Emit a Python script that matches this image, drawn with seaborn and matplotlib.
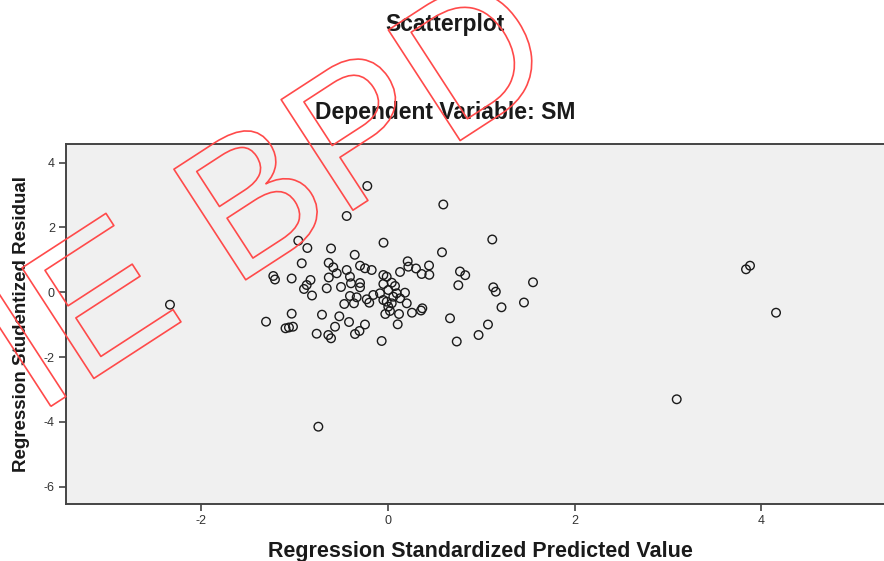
import matplotlib
matplotlib.use("Agg")
import matplotlib.pyplot as plt
import matplotlib.patheffects as pe
import seaborn as sns
import pandas as pd

title_main = "Scatterplot"
title_sub = "Dependent Variable: SM"
x_label = "Regression Standardized Predicted Value"
y_label = "Regression Studentized Residual"
watermark = "IE BPD"

x_ticks = [-2, 0, 2, 4]
y_ticks = [-6, -4, -2, 0, 2, 4]

pred_x = [-2.338, -1.308, -1.230, -1.212, -1.033, -1.033, -1.099, -1.062, -1.019, -0.962,
          -0.865, -0.925, -0.831, -0.872, -0.901, -0.815, -0.765, -0.747, -0.708, -0.640,
          -0.611, -0.611, -0.636, -0.587, -0.550, -0.635, -0.657, -0.504, -0.522, -0.568,
          -0.443, -0.443, -0.408, -0.397, -0.418, -0.408, -0.469, -0.357, -0.354, -0.306,
          -0.300, -0.247, -0.175, -0.300, -0.336, -0.365, -0.247, -0.228, -0.201, -0.222,
          -0.158, -0.068, -0.086, -0.048, -0.014, -0.050, 0.040, 0.003, -0.014, 0.057,
          0.003, -0.029, 0.093, 0.182, 0.129, 0.201, 0.118, 0.104, 0.129, 0.211,
          0.218, 0.300, 0.361, 0.443, 0.440, 0.257, 0.368, 0.354, 0.579, 0.593,
          0.665, 0.737, 0.754, 0.772, 0.828, 0.971, 1.072, 1.118, 1.129, 1.156,
          1.217, 1.458, 1.555, 3.096, 3.839, 3.882, 4.161, -0.050, 0.021, -0.050,
          -0.300, 0.075, 0.040]
resid_y = [-0.383, -0.907, 0.503, 0.395, 0.426, -0.660, -1.111, -1.086, -1.062, 1.593,
           1.367, 0.895, 0.380, 0.225, 0.102, -0.099, -1.278, -4.148, -0.691, -1.318,
           -1.420, 1.352, 0.910, 0.772, 0.586, 0.457, 0.123, 0.164, -0.741, -1.062,
           2.355, 0.688, 0.481, 0.278, -0.917, -0.114, -0.361, 1.157, -1.287, -1.194,
           0.821, 0.741, 0.688, 0.154, -0.154, -0.340, -0.994, -0.216, -0.321, 3.281,
           -0.083, -1.503, -0.031, 1.531, 0.481, 0.256, 0.296, 0.071, -0.290, -0.136,
           -0.444, -0.670, -0.031, -0.012, -0.185, -0.340, -0.670, -0.988, 0.627, 0.957,
           0.790, 0.735, 0.565, 0.540, 0.827, -0.630, -0.494, -0.562, 1.235, 2.710,
           -0.802, -1.519, 0.219, 0.642, 0.528, -1.318, -0.994, 1.630, 0.154, 0.019,
           -0.463, -0.315, 0.309, -3.302, 0.710, 0.821, -0.630, -0.238, -0.577, 0.534,
           0.287, 0.194, -0.340]

df = pd.DataFrame({"pred": pred_x, "resid": resid_y})

sns.set_theme(style="white")
plt.rcParams["font.family"] = ["Liberation Sans", "DejaVu Sans"]

W, H = 884, 561
fig = plt.figure(figsize=(W / 100, H / 100), dpi=100)
fig.patch.set_facecolor("white")

left, right, top, bottom = 66, 894, 144, 504
ax = fig.add_axes([left / W, 1 - bottom / H, (right - left) / W, (bottom - top) / H])
ax.set_facecolor("#f0f0f0")

sns.scatterplot(data=df, x="pred", y="resid", ax=ax, marker="o", s=38,
                facecolors="none", edgecolor="#1a1a1a", linewidth=1.0, zorder=3)

ax.set_xlim(-3.453, 5.426)
ax.set_ylim(-6.534, 4.577)
ax.set_xticks(x_ticks)
ax.set_yticks(y_ticks)
ax.set_xticklabels([str(t) for t in x_ticks])
ax.set_yticklabels([str(t) for t in y_ticks])
ax.tick_params(axis="both", direction="out", length=5, width=1.2, color="#444444",
               labelsize=9, labelcolor="#333333", pad=3, bottom=True, left=True)

for side in ["left", "bottom", "top"]:
    ax.spines[side].set_visible(True)
    ax.spines[side].set_color("#444444")
    ax.spines[side].set_linewidth(1.4)
ax.spines["right"].set_visible(False)

ax.set_xlabel(x_label, fontsize=15.5, fontweight="bold", color="#1a1a1a")
ax.set_ylabel(y_label, fontsize=13.5, fontweight="bold", color="#1a1a1a")
ax.xaxis.set_label_coords((480 - left) / (right - left), -(552 - bottom) / (bottom - top), transform=ax.transAxes)
ax.xaxis.label.set_va("center")
ax.yaxis.set_label_coords(-(left - 22) / (right - left), 0.5, transform=ax.transAxes)
ax.yaxis.label.set_va("center")

fig.text(445 / W, 1 - 24 / H, title_main, ha="center", va="center",
         fontsize=16.5, fontweight="bold", color="#1a1a1a")
fig.text(445 / W, 1 - 112 / H, title_sub, ha="center", va="center",
         fontsize=16.5, fontweight="bold", color="#1a1a1a")

wm = fig.text(36 / W, 1 - 416 / H, watermark, ha="left", va="baseline",
              rotation=33, rotation_mode="anchor", fontsize=138, color="none",
              zorder=10)
wm.set_path_effects([pe.Stroke(linewidth=1.2, foreground="#ff4a4a")])

fig.savefig("out.png", dpi=100, facecolor="white")
